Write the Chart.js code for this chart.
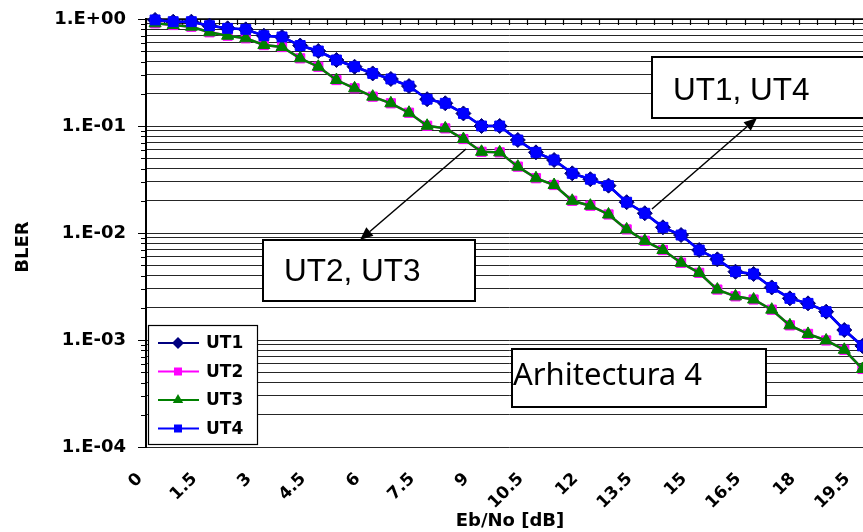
<!DOCTYPE html>
<html>
<head>
<meta charset="utf-8">
<script src="https://cdn.jsdelivr.net/npm/chart.js@4/dist/chart.umd.min.js"></script>
<style>
  html, body { margin: 0; padding: 0; overflow: hidden; background: #fff; width: 863px; height: 532px; }
  #wrap { position: absolute; left: 0; top: 0; width: 880px; height: 532px; }
</style>
</head>
<body>
<div id="wrap"><canvas id="bler" width="880" height="532"></canvas></div>
<script>
// Eb/No categories in dB
const ebNo = ['0','0.5','1','1.5','2','2.5','3','3.5','4','4.5',
              '5','5.5','6','6.5','7','7.5','8','8.5','9','9.5',
              '10','10.5','11','11.5','12','12.5','13','13.5','14','14.5',
              '15','15.5','16','16.5','17','17.5','18','18.5','19','19.5'];

// Block error rate per terminal
const ut1 = [0.98, 0.944, 0.944, 0.866, 0.818, 0.80, 0.698, 0.679, 0.565, 0.502,
             0.414, 0.358, 0.31, 0.275, 0.236, 0.178, 0.163, 0.131, 0.100, 0.100,
             0.074, 0.0567, 0.0481, 0.0361, 0.0318, 0.0277, 0.0194, 0.0153, 0.0113, 0.00957,
             0.00693, 0.00567, 0.00435, 0.00414, 0.0031, 0.00245, 0.0022, 0.00184, 0.00124, 0.00088];
const ut2 = [0.911, 0.879, 0.847, 0.751, 0.698, 0.66, 0.571, 0.547, 0.429, 0.358,
             0.269, 0.225, 0.188, 0.163, 0.133, 0.1005, 0.095, 0.0755, 0.0574, 0.0567,
             0.0417, 0.0325, 0.0281, 0.020, 0.018, 0.0149, 0.0108, 0.00845, 0.00693, 0.00527,
             0.00424, 0.00296, 0.00256, 0.00239, 0.00192, 0.00137, 0.00114, 0.00099, 0.00081, 0.000536];
const ut3 = [0.911, 0.879, 0.847, 0.751, 0.698, 0.66, 0.571, 0.547, 0.429, 0.358,
             0.269, 0.225, 0.188, 0.163, 0.133, 0.1005, 0.095, 0.0755, 0.0574, 0.0567,
             0.0417, 0.0325, 0.0281, 0.020, 0.018, 0.0149, 0.0108, 0.00845, 0.00693, 0.00527,
             0.00424, 0.00296, 0.00256, 0.00239, 0.00192, 0.00137, 0.00114, 0.00099, 0.00081, 0.000536];
const ut4 = [0.98, 0.944, 0.944, 0.866, 0.818, 0.80, 0.698, 0.679, 0.565, 0.502,
             0.414, 0.358, 0.31, 0.275, 0.236, 0.178, 0.163, 0.131, 0.100, 0.100,
             0.074, 0.0567, 0.0481, 0.0361, 0.0318, 0.0277, 0.0194, 0.0153, 0.0113, 0.00957,
             0.00693, 0.00567, 0.00435, 0.00414, 0.0031, 0.00245, 0.0022, 0.00184, 0.00124, 0.00088];

// Axis ticks and labels
const yDecades = [1e-4, 1e-3, 1e-2, 1e-1, 1];
const yDecadeLabels = ['1.E-04', '1.E-03', '1.E-02', '1.E-01', '1.E+00'];
const xLabelEvery = 3;
const seriesNames = ['UT1', 'UT2', 'UT3', 'UT4'];

const AXIS_FONT = 'DejaVu Sans';

// log grid: 1..9 in every decade, plus the top decade
const yTickValues = [];
for (let d = 0; d < yDecades.length - 1; d++) {
  for (let m = 1; m <= 9; m++) yTickValues.push(+(m * yDecades[d]).toPrecision(6));
}
yTickValues.push(yDecades[yDecades.length - 1]);

function decadeIndex(v) {
  return yDecades.findIndex(d => Math.abs(d - v) / d < 1e-6);
}

function drawMarker(ctx, style, x, y, r) {
  ctx.beginPath();
  if (style === 'rectRot') {
    ctx.moveTo(x - r, y); ctx.lineTo(x, y - r); ctx.lineTo(x + r, y); ctx.lineTo(x, y + r);
  } else if (style === 'triangle') {
    ctx.moveTo(x, y - r); ctx.lineTo(x + r * 0.866, y + r * 0.5); ctx.lineTo(x - r * 0.866, y + r * 0.5);
  } else {
    const s = r * 0.8;
    ctx.rect(x - s, y - s, 2 * s, 2 * s);
  }
  ctx.closePath();
  ctx.fill();
}

function arrow(ctx, x1, y1, x2, y2) {
  const a = Math.atan2(y2 - y1, x2 - x1);
  const len = 13, half = 5.5;
  const bx = x2 - len * Math.cos(a), by = y2 - len * Math.sin(a);
  ctx.strokeStyle = '#000';
  ctx.lineWidth = 1.5;
  ctx.beginPath(); ctx.moveTo(x1, y1); ctx.lineTo(bx, by); ctx.stroke();
  ctx.fillStyle = '#000';
  ctx.beginPath();
  ctx.moveTo(x2, y2);
  ctx.lineTo(bx + half * Math.sin(a), by - half * Math.cos(a));
  ctx.lineTo(bx - half * Math.sin(a), by + half * Math.cos(a));
  ctx.closePath(); ctx.fill();
}

// Axis frame: top category axis with inward ticks, left log axis ticks
const framePlugin = {
  id: 'frame',
  beforeDatasetsDraw(chart) {
    const { ctx, chartArea: ca, scales: { x, y } } = chart;
    ctx.save();
    // top horizontal axis line with tick marks at category boundaries
    ctx.strokeStyle = '#000';
    ctx.lineWidth = 1.5;
    ctx.beginPath();
    ctx.moveTo(ca.left, ca.top); ctx.lineTo(ca.right, ca.top);
    ctx.stroke();
    const step = x.getPixelForTick(1) - x.getPixelForTick(0);
    ctx.lineWidth = 1.2;
    ctx.beginPath();
    for (let i = 0; i <= x.ticks.length; i++) {
      const px = Math.round(x.getPixelForTick(0) - step / 2 + i * step) + 0.5;
      ctx.moveTo(px, ca.top); ctx.lineTo(px, ca.top + 6);
    }
    ctx.stroke();
    // left axis tick marks (long for decades, short otherwise)
    ctx.lineWidth = 1.2;
    ctx.beginPath();
    yTickValues.forEach(v => {
      const py = Math.round(y.getPixelForValue(v)) + 0.5;
      const len = decadeIndex(v) >= 0 ? 8 : 5;
      ctx.moveTo(ca.left - len, py); ctx.lineTo(ca.left, py);
    });
    ctx.stroke();
    ctx.restore();
  },
  afterDatasetsDraw(chart) {
    const { ctx } = chart;
    ctx.save();

    // axis titles
    ctx.fillStyle = '#000';
    ctx.font = 'bold 18px "' + AXIS_FONT + '"';
    ctx.textAlign = 'center';
    ctx.textBaseline = 'middle';
    ctx.fillText('Eb/No [dB]', 510, 521);
    ctx.save();
    ctx.translate(23, 247);
    ctx.rotate(-Math.PI / 2);
    ctx.fillText('BLER', 0, 0);
    ctx.restore();

    // legend box
    const lg = { x: 148, y: 325, w: 109, h: 119 };
    ctx.fillStyle = '#fff';
    ctx.fillRect(lg.x, lg.y, lg.w, lg.h);
    ctx.strokeStyle = '#000';
    ctx.lineWidth = 1.2;
    ctx.strokeRect(lg.x + 0.5, lg.y + 0.5, lg.w, lg.h);
    chart.data.datasets.forEach((ds, i) => {
      const cy = lg.y + 18 + i * 28.5;
      ctx.strokeStyle = ds.borderColor;
      ctx.lineWidth = 2;
      ctx.beginPath(); ctx.moveTo(lg.x + 10, cy); ctx.lineTo(lg.x + 51, cy); ctx.stroke();
      ctx.fillStyle = ds.pointBackgroundColor;
      drawMarker(ctx, ds.pointStyle, lg.x + 30, cy, ds.pointStyle === 'rect' ? 5 : 6);
      ctx.fillStyle = '#000';
      ctx.font = 'bold 17px "' + AXIS_FONT + '"';
      ctx.textAlign = 'left';
      ctx.textBaseline = 'middle';
      ctx.fillText(seriesNames[i], lg.x + 58, cy + 1);
    });

    // text boxes
    const boxes = [
      { text: 'UT1, UT4', x: 652, y: 57, w: 260, h: 61, tx: 673, ty: 100, font: '31.5px "Liberation Sans"' },
      { text: 'UT2, UT3', x: 263, y: 240, w: 212, h: 61, tx: 284, ty: 281, font: '31.5px "Liberation Sans"' },
      { text: 'Arhitectura 4', x: 512, y: 349, w: 254, h: 58, tx: 513, ty: 385, font: '31px "Noto Sans"' }
    ];
    boxes.forEach(b => {
      ctx.fillStyle = '#fff';
      ctx.fillRect(b.x, b.y, b.w, b.h);
      ctx.strokeStyle = '#000';
      ctx.lineWidth = 2;
      ctx.strokeRect(b.x, b.y, b.w, b.h);
      ctx.fillStyle = '#000';
      ctx.font = b.font;
      ctx.textAlign = 'left';
      ctx.textBaseline = 'alphabetic';
      ctx.fillText(b.text, b.tx, b.ty);
    });

    // pointers to the curve groups
    arrow(ctx, 652, 209, 757, 118);
    arrow(ctx, 466, 149, 360, 240);

    ctx.restore();
  }
};

function series(label, data, color, style, radius, order) {
  return {
    label, data, order,
    borderColor: color,
    backgroundColor: color,
    pointBackgroundColor: color,
    pointBorderColor: color,
    pointBorderWidth: 1,
    pointStyle: style,
    pointRadius: radius,
    borderWidth: 2.5,
    tension: 0,
    clip: false
  };
}

new Chart(document.getElementById('bler'), {
  type: 'line',
  data: {
    labels: ebNo,
    datasets: [
      series(seriesNames[0], ut1, '#000080', 'rectRot', 7.5, 4),
      series(seriesNames[1], ut2, '#FF00FF', 'rect', 6.5, 3),
      series(seriesNames[2], ut3, '#008000', 'triangle', 7, 2),
      series(seriesNames[3], ut4, '#0000FF', 'rect', 7, 1)
    ]
  },
  options: {
    responsive: false,
    animation: false,
    events: [],
    layout: { padding: { top: 19, right: 3.6, left: 0, bottom: 0 } },
    plugins: { legend: { display: false }, tooltip: { enabled: false } },
    scales: {
      x: {
        type: 'category',
        offset: true,
        grid: { display: false, drawTicks: false },
        border: { display: false },
        afterFit(scale) {
          scale.height = 85;
          scale.paddingLeft = 0;
          scale.paddingRight = 0;
        },
        ticks: {
          autoSkip: false,
          maxRotation: 45,
          minRotation: 45,
          padding: 22,
          labelOffset: -15,
          color: '#000',
          font: { family: AXIS_FONT, size: 17, weight: 'bold' },
          callback(value, index) { return index % xLabelEvery === 0 ? ebNo[index] : ''; }
        }
      },
      y: {
        type: 'logarithmic',
        min: yDecades[0],
        max: yDecades[yDecades.length - 1],
        afterBuildTicks(scale) { scale.ticks = yTickValues.map(v => ({ value: v })); },
        afterFit(scale) {
          scale.width = 146;
          scale.paddingTop = 0;
          scale.paddingBottom = 0;
        },
        grid: { color: '#262626', lineWidth: 1, drawTicks: false },
        border: { display: true, color: '#000', width: 2 },
        ticks: {
          autoSkip: false,
          padding: 20,
          color: '#000',
          font: { family: AXIS_FONT, size: 18, weight: 'bold' },
          callback(value) {
            const k = decadeIndex(value);
            return k >= 0 ? yDecadeLabels[k] : '';
          }
        }
      }
    }
  },
  plugins: [framePlugin]
});
</script>
</body>
</html>
